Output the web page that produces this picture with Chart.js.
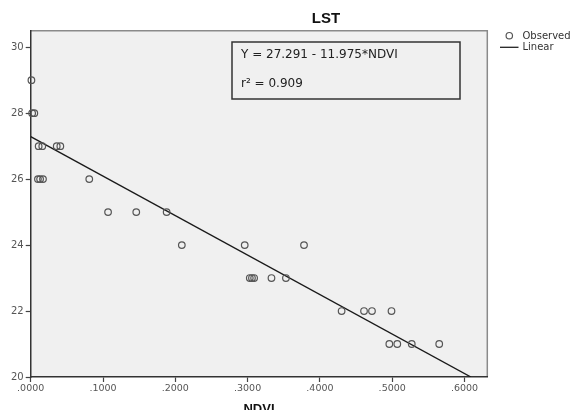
<!DOCTYPE html>
<html>
<head>
<meta charset="utf-8">
<script src="https://cdn.jsdelivr.net/npm/chart.js"></script>
<style>
  html, body { margin: 0; padding: 0; background: #fff; }
  #wrap { width: 572px; height: 410px; }
</style>
</head>
<body>
<div id="wrap"><canvas id="c" width="572" height="410"></canvas></div>
<script>
const ndvi = [0.001, 0.002, 0.005, 0.011, 0.016, 0.036, 0.041, 0.010, 0.013, 0.017, 0.081,
  0.107, 0.146, 0.188, 0.209, 0.296, 0.378, 0.303, 0.306, 0.309, 0.333, 0.353,
  0.430, 0.461, 0.472, 0.499, 0.496, 0.507, 0.527, 0.565];
const lst = [29, 28, 28, 27, 27, 27, 27, 26, 26, 26, 26,
  25, 25, 25, 24, 24, 24, 23, 23, 23, 23, 23,
  22, 22, 22, 22, 21, 21, 21, 21];

// Fitted line
const intercept = 27.291;
const slope = -11.975;
const lineX = [0, (20 - intercept) / slope];

const xTicks = [0, 0.1, 0.2, 0.3, 0.4, 0.5, 0.6];
const yTicks = [20, 22, 24, 26, 28, 30];

const font = '"DejaVu Sans", sans-serif';

const frame = {
  id: 'frame',
  beforeDraw(chart) {
    const { ctx, chartArea: a } = chart;
    ctx.save();
    ctx.fillStyle = '#f0f0f0';
    ctx.fillRect(a.left, a.top, a.right - a.left, a.bottom - a.top);
    ctx.strokeStyle = '#8a8a8a';
    ctx.lineWidth = 1.5;
    ctx.beginPath();
    ctx.moveTo(a.left, a.top);
    ctx.lineTo(a.right, a.top);
    ctx.lineTo(a.right, a.bottom);
    ctx.stroke();
    ctx.restore();
  },
  afterDraw(chart) {
    const { ctx, chartArea: a } = chart;
    ctx.save();
    // title
    ctx.fillStyle = '#111';
    ctx.font = 'bold 15px "Liberation Sans", Arial, sans-serif';
    ctx.textAlign = 'center';
    ctx.textBaseline = 'middle';
    ctx.fillText('LST', 326, 19);
    // x axis title
    ctx.textBaseline = 'top';
    ctx.font = 'bold 13px "Liberation Sans", Arial, sans-serif';
    ctx.fillText('NDVI', (a.left + a.right) / 2, 403);
    // equation box
    ctx.strokeStyle = '#333';
    ctx.lineWidth = 1.5;
    ctx.strokeRect(232, 42, 228, 57);
    ctx.fillStyle = '#222';
    ctx.textAlign = 'left';
    ctx.textBaseline = 'middle';
    ctx.font = '12px ' + font;
    ctx.fillText('Y = 27.291 - 11.975*NDVI', 241, 54.5);
    ctx.fillText('r² = 0.909', 241, 83.5);
    // legend
    ctx.font = '10px ' + font;
    ctx.fillStyle = '#333';
    ctx.fillText('Observed', 522.5, 36);
    ctx.fillText('Linear', 522.5, 47.5);
    ctx.strokeStyle = '#555';
    ctx.lineWidth = 1.2;
    ctx.beginPath();
    ctx.arc(509.3, 35.7, 3.2, 0, Math.PI * 2);
    ctx.stroke();
    ctx.strokeStyle = '#222';
    ctx.lineWidth = 1.3;
    ctx.beginPath();
    ctx.moveTo(500, 47.3);
    ctx.lineTo(518.5, 47.3);
    ctx.stroke();
    ctx.restore();
  }
};

new Chart(document.getElementById('c'), {
  type: 'scatter',
  data: {
    datasets: [{
      label: 'Observed',
      data: ndvi.map((x, i) => ({ x: x, y: lst[i] })),
      pointStyle: 'circle',
      pointRadius: 3.3,
      pointBorderWidth: 1.2,
      borderColor: '#555',
      backgroundColor: 'rgba(0,0,0,0)',
      clip: false
    }, {
      type: 'line',
      label: 'Linear',
      data: lineX.map(x => ({ x: x, y: intercept + slope * x })),
      borderColor: '#1a1a1a',
      borderWidth: 1.4,
      pointRadius: 0,
      fill: false
    }]
  },
  options: {
    responsive: false,
    animation: false,
    layout: { padding: { left: 0, right: 84.7, top: 30.7, bottom: 0 } },
    plugins: { legend: { display: false }, title: { display: false }, tooltip: { enabled: false } },
    scales: {
      x: {
        type: 'linear',
        min: 0,
        max: 0.6315,
        afterBuildTicks: s => { s.ticks = xTicks.map(v => ({ value: v })); },
        afterFit: s => { s.height = 33; },
        grid: { drawOnChartArea: false, tickLength: 5, color: '#444', tickWidth: 1.2 },
        border: { color: '#333', width: 1.5 },
        ticks: {
          color: '#555',
          font: { family: font, size: 9.5 },
          padding: 1,
          maxRotation: 0,
          callback: v => v.toFixed(4).replace(/^0/, '')
        }
      },
      y: {
        type: 'linear',
        min: 20,
        max: 30.5,
        afterBuildTicks: s => { s.ticks = yTicks.map(v => ({ value: v })); },
        afterFit: s => { s.width = 30.7; },
        grid: { drawOnChartArea: false, tickLength: 5, color: '#444', tickWidth: 1.2 },
        border: { color: '#333', width: 1.5 },
        ticks: {
          color: '#555',
          font: { family: font, size: 10 },
          padding: 2
        }
      }
    }
  },
  plugins: [frame]
});
</script>
</body>
</html>
